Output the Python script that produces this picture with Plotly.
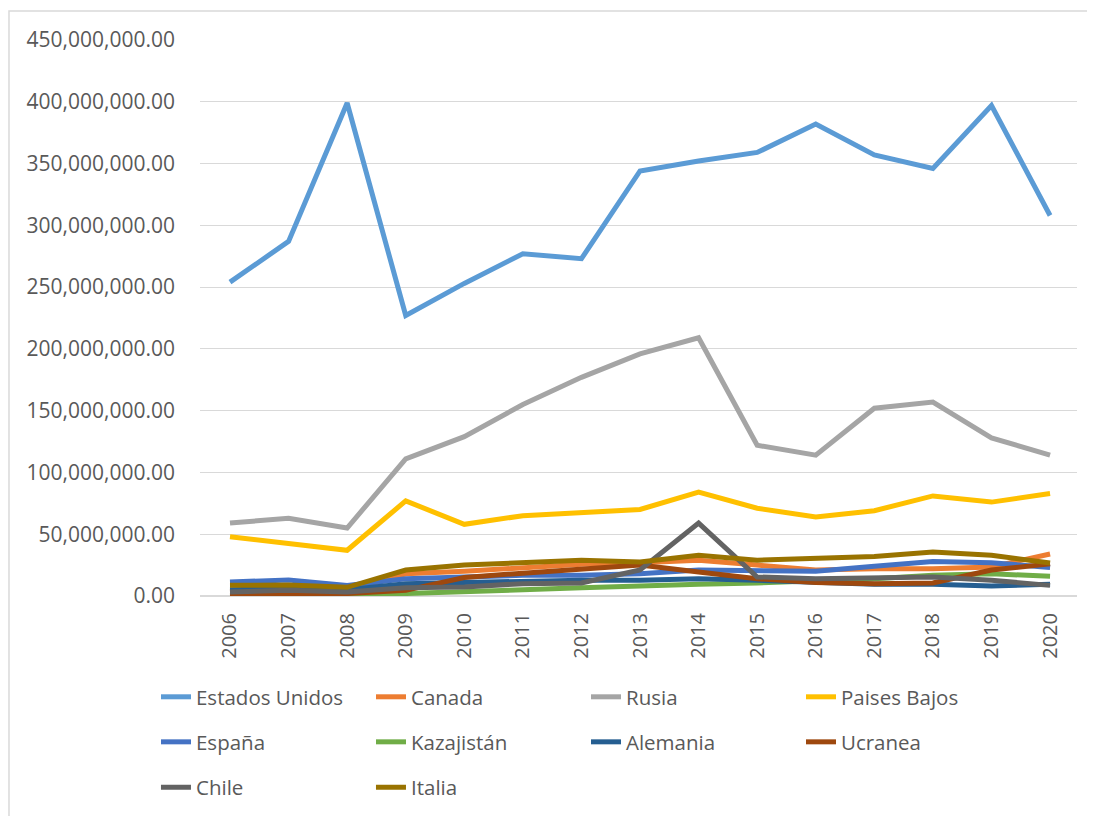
import plotly.graph_objects as go

years = [str(y) for y in range(2006, 2021)]

estados_unidos = [254, 287, 399, 227, 253, 277, 273, 344, 352, 359, 382, 357, 346, 397, 308]
canada = [4, 5, 4, 18, 20, 23, 25.6, 27, 29, 25, 21, 22, 22, 23.5, 34]
rusia = [59, 63, 55, 111, 129, 155, 177, 196, 209, 122, 114, 152, 157, 128, 114]
paises_bajos = [48, 42, 37, 77, 58, 65, 68, 70, 84, 71, 64, 69, 81, 76, 83]
espana = [11.3, 13, 8.6, 14, 15.4, 16.7, 16.7, 18, 21, 21, 20, 24, 28, 27, 23]
kazajistan = [0.2, 0.3, 0.3, 2, 3.2, 5, 6.7, 8.6, 9.5, 10.5, 12, 14, 16.7, 18, 16]
alemania = [5, 6, 5, 10, 11, 12, 12.7, 12.7, 14, 12.7, 11, 9.5, 9.5, 8, 9.5]
ucranea = [0.5, 1, 2, 4.6, 15, 18.5, 22, 25, 19.5, 14, 11, 10, 10.5, 21, 26]
chile = [3.2, 4.6, 3.2, 6.7, 7.3, 10, 10.5, 21, 59, 15.4, 14, 14.6, 15.4, 12.7, 8.6]
italia = [8.6, 9, 7, 21, 25, 27, 29, 27.5, 33, 29, 30, 32, 35.6, 33, 26.7]

names = ["Estados Unidos", "Canada", "Rusia", "Paises Bajos", "España",
         "Kazajistán", "Alemania", "Ucranea", "Chile", "Italia"]
series = [estados_unidos, canada, rusia, paises_bajos, espana,
          kazajistan, alemania, ucranea, chile, italia]
colors = ["#5B9BD5", "#ED7D31", "#A5A5A5", "#FFC000", "#4472C4",
          "#70AD47", "#255E91", "#9E480E", "#636363", "#997300"]
legends = ["legend", "legend", "legend", "legend",
           "legend2", "legend2", "legend2", "legend2",
           "legend3", "legend3"]

fig = go.Figure()
for n, s, c, lg in zip(names, series, colors, legends):
    fig.add_trace(go.Scatter(
        x=years, y=[v * 1e6 for v in s], name=n, mode="lines",
        line=dict(color=c, width=5), legend=lg,
    ))

FONT = "Open Sans, Liberation Sans, sans-serif"
leg_common = dict(
    orientation="h", x=-0.0502, xanchor="left", yanchor="middle",
    entrywidth=170, entrywidthmode="pixels",
    font=dict(family=FONT, size=20.5, color="#595959"),
    bgcolor="rgba(0,0,0,0)", itemclick=False, itemdoubleclick=False,
)

fig.update_layout(
    width=1095, height=816,
    margin=dict(l=192, r=26, t=32, b=228),
    paper_bgcolor="white", plot_bgcolor="white",
    font=dict(family=FONT, color="#595959"),
    xaxis=dict(
        type="category", range=[-0.512, 14.46], tickangle=-90,
        tickfont=dict(size=20, color="#595959"),
        showgrid=False, showline=False, ticks="", ticklabelstandoff=12,
    ),
    yaxis=dict(
        range=[0, 450e6], dtick=50e6, tickformat=",.2f",
        tickfont=dict(size=21, color="#595959"),
        showgrid=True, gridcolor="#d9d9d9", gridwidth=1,
        zeroline=True, zerolinecolor="#d9d9d9", zerolinewidth=1.5,
        showline=False, ticks="", ticklabelstandoff=24,
    ),
    legend=dict(y=-0.1816, **leg_common),
    legend2=dict(y=-0.2626, **leg_common),
    legend3=dict(y=-0.3444, **leg_common),
    shapes=[dict(
        type="rect", xref="paper", yref="paper",
        x0=-0.2178, x1=1.05, y0=-0.42, y1=1.052,
        line=dict(color="#d9d9d9", width=1.5), fillcolor="rgba(0,0,0,0)",
        layer="below",
    )],
)

fig.write_html("out.html")
